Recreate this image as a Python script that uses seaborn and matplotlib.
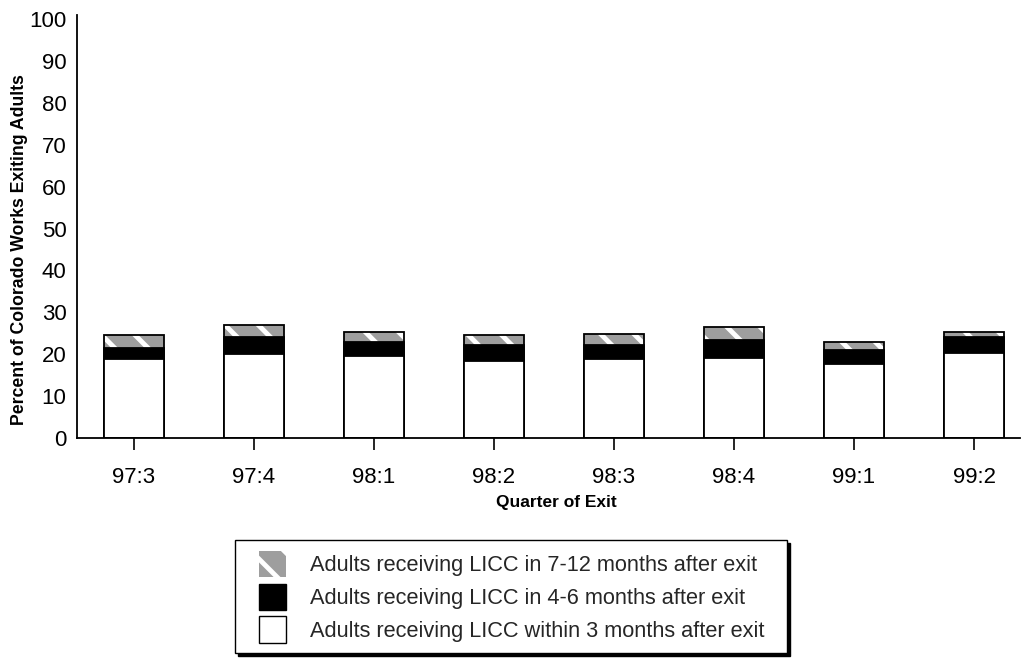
import numpy as np
import pandas as pd
import matplotlib
matplotlib.use("Agg")
import matplotlib.pyplot as plt
import seaborn as sns
from matplotlib.patches import Patch, Rectangle
from matplotlib.legend_handler import HandlerPatch

quarters = ['97:3', '97:4', '98:1', '98:2', '98:3', '98:4', '99:1', '99:2']
within_3 = [18.8, 20.0, 19.5, 18.3, 18.8, 19.2, 17.6, 20.4]
months_4_6 = [2.8, 4.0, 3.5, 4.0, 3.3, 4.1, 3.5, 3.6]
months_7_12 = [2.9, 3.1, 2.4, 2.4, 2.8, 3.1, 1.9, 1.4]
labels = ['Adults receiving LICC in 7-12 months after exit',
          'Adults receiving LICC in 4-6 months after exit',
          'Adults receiving LICC within 3 months after exit']

sns.set_theme(style="white")
plt.rcParams['font.family'] = ['Liberation Sans', 'DejaVu Sans']
plt.rcParams['hatch.linewidth'] = 3.5

df = pd.DataFrame({'quarter': quarters,
                   'w3': within_3, 'm46': months_4_6, 'm712': months_7_12})
df['lvl1'] = df['w3']
df['lvl2'] = df['w3'] + df['m46']
df['lvl3'] = df['lvl2'] + df['m712']

W, H = 1026, 660
L, R, B, T = 77, 1020, 438, 15
fig = plt.figure(figsize=(W/100, H/100), dpi=100)
ax = fig.add_axes([L/W, 1-B/H, (R-L)/W, (B-T)/H])

grey = '#9e9e9e'
# top layer (7-12 months): grey with white diagonal stripes
sns.barplot(data=df, x='quarter', y='lvl3', order=quarters, color=grey,
            width=0.5, saturation=1, edgecolor='white', linewidth=0,
            hatch='\\', ax=ax, errorbar=None)
sns.barplot(data=df, x='quarter', y='lvl3', order=quarters, fill=False,
            width=0.5, edgecolor='black', linewidth=1.3, ax=ax, errorbar=None)
# middle layer (4-6 months): black
sns.barplot(data=df, x='quarter', y='lvl2', order=quarters, color='black',
            width=0.5, saturation=1, edgecolor='black', linewidth=1.3,
            ax=ax, errorbar=None)
# bottom layer (within 3 months): white
sns.barplot(data=df, x='quarter', y='lvl1', order=quarters, color='white',
            width=0.5, saturation=1, edgecolor='black', linewidth=1.3,
            ax=ax, errorbar=None)

ax.set_xlim((L-134)/120, (R-134)/120)
ax.set_ylim(0, 101)
ax.set_yticks(np.arange(0, 101, 10))
for s in ['top', 'right']:
    ax.spines[s].set_visible(False)
for s in ['left', 'bottom']:
    ax.spines[s].set_color('black')
    ax.spines[s].set_linewidth(1.3)

ax.tick_params(axis='y', length=0, pad=7.5, labelsize=16, colors='black')
ax.tick_params(axis='x', length=8.5, width=1.2, direction='out', pad=12.5,
               labelsize=16, colors='black', bottom=True)

ax.set_xlabel('Quarter of Exit', fontsize=12.5, fontweight='bold', color='black')
ax.set_ylabel('Percent of Colorado Works Exiting Adults', fontsize=12.7,
              fontweight='bold', color='black')
ax.xaxis.set_label_coords((556-L)/(R-L), -(495-B)/(B-T))
ax.yaxis.set_label_coords((28-L)/(R-L), (B-250)/(B-T))

LEG_FS = 15.7
OFF_PX = 13.0


def make_patch(legend, orig_handle, xdescent, ydescent, width, height, fontsize):
    off = OFF_PX * 72 / 100
    return Rectangle((-xdescent + off, -ydescent), width - off, height)


handles = [Patch(facecolor=grey, edgecolor='white', hatch='\\', linewidth=0),
           Patch(facecolor='black', edgecolor='black'),
           Patch(facecolor='white', edgecolor='black', linewidth=1)]
fs_px = LEG_FS * 100 / 72
leg = fig.legend(handles, labels, loc='upper left',
                 bbox_to_anchor=(235/W, 1-540/H - 0.01, (787-235)/W, 0.01),
                 mode='expand', borderaxespad=0,
                 fontsize=LEG_FS, frameon=True, fancybox=False,
                 shadow={'color': 'black', 'alpha': 1},
                 handler_map={Patch: HandlerPatch(patch_func=make_patch)},
                 handlelength=(OFF_PX + 27) / fs_px, handleheight=1.46,
                 handletextpad=24 / fs_px,
                 labelspacing=0.31, borderpad=0.5)
leg.get_frame().set_edgecolor('black')
leg.get_frame().set_linewidth(1.0)

fig.savefig('out.png', dpi=100, facecolor='white')
